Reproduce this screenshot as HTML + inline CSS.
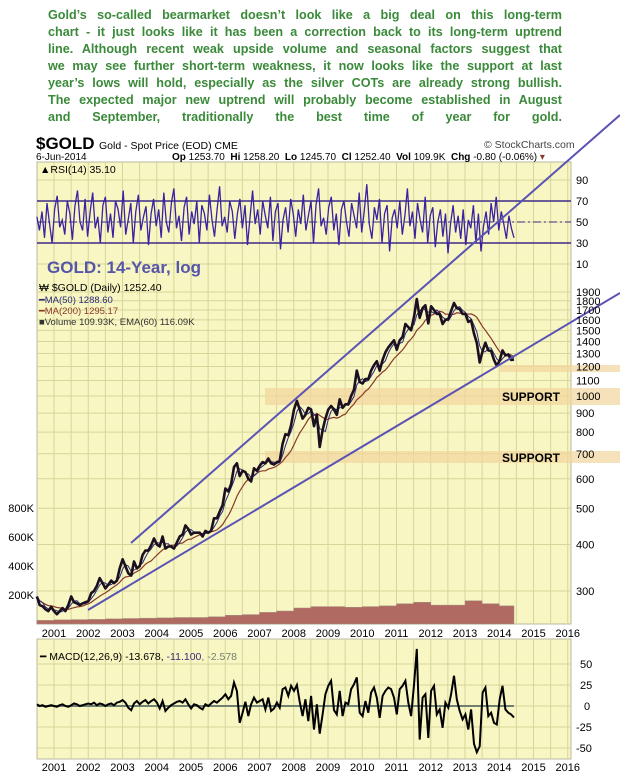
<!DOCTYPE html>
<html><head><meta charset="utf-8">
<style>
html,body{margin:0;padding:0;background:#fff;}
#wrap{position:relative;width:620px;height:781px;overflow:hidden;font-family:"Liberation Sans",sans-serif;}
#note{position:absolute;left:48px;top:7px;width:514px;font:bold 12.6px/17px "Liberation Sans",sans-serif;color:#3a8a3a;}
#note div{text-align:justify;text-align-last:justify;white-space:nowrap;overflow:hidden;height:17px;}
svg{position:absolute;left:0;top:0;}
</style></head>
<body>
<div id="wrap">
<div id="note">
<div>Gold’s so-called bearmarket doesn’t look like a big deal on this long-term</div>
<div>chart - it just looks like it has been a correction back to its long-term uptrend</div>
<div>line. Although recent weak upside volume and seasonal factors suggest that</div>
<div>we may see further short-term weakness, it now looks like the support at last</div>
<div>year’s lows will hold, especially as the silver COTs are already strong bullish.</div>
<div>The expected major new uptrend will probably become established in August</div>
<div>and September, traditionally the best time of year for gold.</div>
</div>
<svg id="chart" width="620" height="781"></svg>
</div>
<script>
// ---- data ----
const startYear = 2000.5;
const endYear = 2014.43;
const yearLabels = [2001,2002,2003,2004,2005,2006,2007,2008,2009,2010,2011,2012,2013,2014,2015,2016];
const priceTicks = [1900,1800,1700,1600,1500,1400,1300,1200,1100,1000,900,800,700,600,500,400,300];
const rsiTicks = [90,70,50,30,10];
const macdTicks = [50,25,0,-25,-50];
const volTicks = [800,600,400,200];
const prices = [290,275,273,268,265,272,
265,260,265,270,265,275,290,280,278,275,278,280,
282,296,300,310,325,315,305,312,320,315,320,345,
365,350,335,330,360,345,350,375,385,385,398,415,
400,395,420,390,395,395,390,405,420,425,450,440,
425,430,430,430,420,435,430,435,470,470,490,510,
565,555,580,645,660,610,630,625,600,590,640,630,
650,665,660,680,660,655,665,670,745,790,785,835,
920,970,920,870,890,930,920,830,890,730,810,870,
920,940,920,890,980,930,950,950,1000,1040,1170,1090,
1080,1110,1110,1170,1210,1240,1170,1250,1310,1350,1380,1410,
1330,1410,1440,1560,1530,1500,1630,1820,1620,1720,1750,1565,
1740,1700,1660,1660,1560,1600,1610,1690,1775,1720,1710,1660,
1660,1580,1595,1470,1390,1230,1320,1390,1325,1320,1250,1205,
1245,1325,1285,1290,1250,1252];
const volumes = [25,28,30,32,35,38,40,42,45,45,50,60,65,80,90,110,120,120,115,120,125,140,150,130,130,160,140,125];
const rsi = [55,42,60,35,68,48,30,62,75,45,52,38,70,58,33,65,80,50,42,72,36,60,78,44,55,30,66,74,40,58,35,70,62,45,80,38,52,68,30,60,76,42,55,65,28,58,72,46,62,35,78,50,40,68,82,44,56,32,64,74,38,60,48,70,30,66,58,42,76,52,36,62,84,46,55,40,70,60,34,58,72,44,66,28,54,80,48,62,38,70,56,44,74,32,60,68,24,52,64,40,72,58,36,62,48,76,42,56,70,30,66,82,46,54,38,64,74,42,58,28,62,70,50,36,68,56,44,78,40,60,86,48,34,64,52,72,30,58,66,22,54,62,44,70,38,56,82,46,60,34,68,52,40,74,30,56,64,26,50,62,36,58,20,48,66,40,56,34,62,28,52,44,66,30,58,22,46,60,38,68,50,74,42,60,48,34,56,44,35];
const macd = [2,0,1,-1,0,1,
0,-1,1,2,0,-1,1,3,2,0,1,2,
3,2,4,1,3,2,0,2,3,1,4,5,
7,4,-2,-5,3,6,2,5,7,3,6,8,
4,-3,6,-6,-2,1,3,5,6,4,8,2,
-3,2,1,-2,-4,2,0,3,6,4,7,10,
14,8,12,28,18,-20,-8,5,-12,2,10,4,
6,8,-4,10,-6,-3,4,-2,20,22,12,24,
18,25,5,-12,8,-18,12,-28,2,-33,-10,14,
24,30,-5,-10,18,-12,4,2,20,26,34,-8,
-12,6,-8,16,22,10,-14,12,18,22,20,10,
-10,20,24,30,4,-12,25,68,-40,10,14,-38,
18,24,-10,-4,-26,4,-2,14,36,8,-6,-16,
-10,-28,-4,-45,-55,-48,16,22,-12,-8,-20,-22,
8,24,-4,-8,-10,-13.7];

// ---- axes ----
const L=37,R=571;
const tx = t => 54 + (t-2001)*34.25;
const py = p => 396 - 162*Math.log(p/1000);
const ry = v => 201 + (70-v)*1.05;
const my = v => 706 - v*0.84;
const vy = v => 624 - v*29/200;
const ix = (i,n) => tx(startYear + (endYear-startYear)*i/(n-1));

const NS="http://www.w3.org/2000/svg";
const svg=document.getElementById('chart');
function mk(tag,attrs,parent){const e=document.createElementNS(NS,tag);for(const k in attrs)e.setAttribute(k,attrs[k]);(parent||svg).appendChild(e);return e;}
function txt(s,x,y,attrs){const e=mk('text',Object.assign({x:x,y:y,'font-family':'Liberation Sans, sans-serif','font-size':10,fill:'#000'},attrs||{}));e.textContent=s;return e;}

let e;
e=mk('rect',{x:L,y:162,width:R-L,height:462,fill:'#f8f6c2',stroke:'#b8b8a0'});


e=mk('rect',{x:L,y:639,width:R-L,height:120,fill:'#f8f6c2',stroke:'#b8b8a0'});



const grid=mk('g',{stroke:'#d6d69a','stroke-width':1});


for(let t=2001;t<=2016;t+=0.5){const x=tx(t);if(x<=L||x>=R)continue;mk('line',{x1:x,x2:x,y1:162,y2:624},grid);mk('line',{x1:x,x2:x,y1:639,y2:759},grid);}
rsiTicks.forEach(v=>mk('line',{x1:L,x2:R,y1:ry(v),y2:ry(v)},grid));
priceTicks.forEach(v=>mk('line',{x1:L,x2:R,y1:py(v),y2:py(v)},grid));
macdTicks.forEach(v=>mk('line',{x1:L,x2:R,y1:my(v),y2:my(v)},grid));

const bands=mk('g',{fill:'#f2d69c','fill-opacity':0.7});


mk('rect',{x:500,y:365,width:120,height:7},bands);
mk('rect',{x:265,y:388,width:355,height:17},bands);
mk('rect',{x:265,y:451,width:355,height:12},bands);

mk('line',{x1:L,x2:R,y1:ry(70),y2:ry(70),stroke:'#3a2a8a','stroke-width':1.5});
mk('line',{x1:L,x2:R,y1:ry(30),y2:ry(30),stroke:'#3a2a8a','stroke-width':1.5});
mk('line',{x1:L,x2:R,y1:ry(50),y2:ry(50),stroke:'#3a2a8a','stroke-width':1,'stroke-dasharray':'8,3,2,3'});
e=mk('polyline',{points:rsi.map((v,i)=>ix(i,rsi.length).toFixed(1)+','+ry(v).toFixed(1)).join(' '),fill:'none',stroke:'#3a22a0','stroke-width':1.3});



let vp=`${tx(startYear)},624 `;
volumes.forEach((v,i)=>{const t0=startYear+i*0.5,t1=Math.min(endYear,t0+0.5);vp+=`${tx(t0).toFixed(1)},${vy(v).toFixed(1)} ${tx(t1).toFixed(1)},${vy(v).toFixed(1)} `;});
vp+=`${tx(endYear)},624`;
e=mk('polygon',{points:vp,fill:'#b06a62',stroke:'#a09080','stroke-width':0.5});



function ma(n){return prices.map((p,i)=>{const s=prices.slice(Math.max(0,i-n+1),i+1);return s.reduce((a,b)=>a+b,0)/s.length;});}
const ma50=ma(3), ma200=ma(10);
e=mk('polyline',{points:ma200.map((v,i)=>ix(i,prices.length).toFixed(1)+','+py(v).toFixed(1)).join(' '),fill:'none',stroke:'#8b3a2a','stroke-width':1.2});


e=mk('polyline',{points:ma50.map((v,i)=>ix(i,prices.length).toFixed(1)+','+py(v).toFixed(1)).join(' '),fill:'none',stroke:'#2a2a7a','stroke-width':1});


e=mk('polyline',{points:prices.map((v,i)=>ix(i,prices.length).toFixed(1)+','+py(v).toFixed(1)).join(' '),fill:'none',stroke:'#1a1020','stroke-width':2.6,'stroke-linejoin':'round'});



mk('line',{x1:L,x2:ix(macd.length-1,macd.length),y1:my(0),y2:my(0),stroke:'#708070','stroke-width':2});
e=mk('polyline',{points:macd.map((v,i)=>ix(i,macd.length).toFixed(1)+','+my(v).toFixed(1)).join(' '),fill:'none',stroke:'#000','stroke-width':2});



e=mk('line',{x1:131,y1:543,x2:620,y2:115,stroke:'#5a52b5','stroke-width':2});


e=mk('line',{x1:88,y1:610,x2:620,y2:293,stroke:'#5a52b5','stroke-width':2});



rsiTicks.forEach(v=>{e=txt(String(v),576,ry(v)+4,{'font-size':11});});
priceTicks.forEach(v=>{e=txt(String(v),576,py(v)+4,{'font-size':11});});
macdTicks.forEach(v=>{e=txt(String(v),576+(v<0?0:(v===0?8:4)),my(v)+4,{'font-size':11});});
volTicks.forEach(v=>{e=txt(v+'K',34,vy(v)+4,{'font-size':11,'text-anchor':'end'});});
yearLabels.forEach(y=>{[637,771].forEach(yy=>{e=txt(String(y),tx(y),yy,{'font-size':11,'text-anchor':'middle'});});});

e=txt('SUPPORT',502,401,{'font-size':12,'font-weight':'bold'});
e=txt('SUPPORT',502,462,{'font-size':12,'font-weight':'bold'});

e=txt('$GOLD',36,149,{'font-size':17,'font-weight':'bold'});
e=txt('Gold - Spot Price (EOD) CME',99,149,{'font-size':10.5});
e=txt('© StockCharts.com',484,148,{'font-size':10.5,fill:'#444'});
e=txt('6-Jun-2014',36,160,{'font-size':10});
const q=txt('',172,160,{'font-size':10});
[['Op ',1],['1253.70  ',0],['Hi ',1],['1258.20  ',0],['Lo ',1],['1245.70  ',0],['Cl ',1],['1252.40  ',0],['Vol ',1],['109.9K  ',0],['Chg ',1],['-0.80 (-0.06%) ',0],['▾',2]].forEach(([s,b])=>{const t=mk('tspan',{'font-weight':b===1?'bold':'normal','fill':b===2?'#8b3a2a':'#000'},q);t.textContent=s;});
q.setAttribute('style','white-space:pre');
e=txt('▲RSI(14) 35.10',40,173,{'font-size':10.5});
e=txt('GOLD: 14-Year, log',47,273,{'font-size':17,'font-weight':'bold',fill:'#5555aa'});
e=txt('₩ $GOLD (Daily) 1252.40',39,291,{'font-size':10.5});
e=txt('━MA(50) 1288.60',39,303,{'font-size':9.5,fill:'#2a2a7a'});
e=txt('━MA(200) 1295.17',39,314,{'font-size':9.5,fill:'#8b3a2a'});
e=txt('■Volume 109.93K, EMA(60) 116.09K',39,325,{'font-size':9.5,fill:'#333'});
const m=txt('',40,660,{'font-size':10.5});
[['━ MACD(12,26,9) -13.678, ','#000'],['-11.100','#3a2a7a'],[', -2.578','#708070']].forEach(([s,c])=>{const t=mk('tspan',{fill:c},m);t.textContent=s;});
</script>
</body></html>
